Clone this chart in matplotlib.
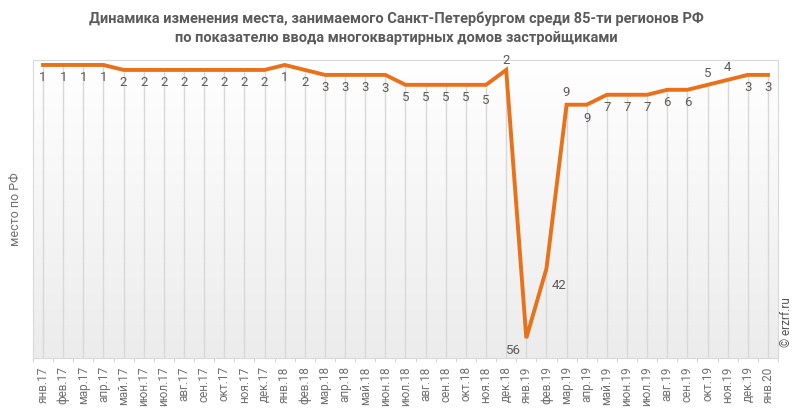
import matplotlib
matplotlib.use("Agg")
import matplotlib.pyplot as plt
import numpy as np

plt.rcParams['font.family'] = ['Roboto', 'DejaVu Sans']

# month labels, Jan 2017 .. Jan 2020
months = ["янв", "фев", "мар", "апр", "май", "июн",
          "июл", "авг", "сен", "окт", "ноя", "дек"]
labels = [f"{m}.{y}" for y in (17, 18, 19) for m in months] + ["янв.20"]

# rank among 85 regions
ranks = [1, 1, 1, 1, 2, 2, 2, 2, 2, 2, 2, 2,
         1, 2, 3, 3, 3, 3, 5, 5, 5, 5, 5, 2,
         56, 42, 9, 9, 7, 7, 7, 6, 6, 5, 4, 3,
         3]

# label placement (offset in points): default below the line
offsets = {23: (0, 7), 24: (-9, -9), 25: (9, -12), 26: (0, 9),
           27: (0, -10), 33: (0, 8), 34: (0, 9), 17: (0, -10), 22: (0, -11)}

title = ("Динамика изменения места, занимаемого Санкт-Петербургом среди 85-ти регионов РФ\n"
         "по показателю ввода многоквартирных домов застройщиками")

fig = plt.figure(figsize=(7.93, 4.15), dpi=100)
ax = fig.add_axes([33 / 793, 1 - 358 / 415, 745 / 793, 298 / 415])

x = np.arange(len(ranks))
ax.set_xlim(-0.5, len(ranks) - 0.5)
ax.set_ylim(60, 0)

# background gradient
grad = np.linspace(0, 1, 100).reshape(-1, 1)
ax.imshow(grad, cmap=matplotlib.colors.LinearSegmentedColormap.from_list("bg", ["#ffffff", "#ececec"]),
          extent=(-0.5, len(ranks) - 0.5, 60, 0), aspect="auto", zorder=0)

# drop lines from each point
ax.vlines(x, ranks, 60, color="#d8d8d8", lw=1, zorder=1)

ax.plot(x, ranks, color="#E8711A", lw=2.8, zorder=3, solid_joinstyle="miter")

for i, r in enumerate(ranks):
    dx, dy = offsets.get(i, (0, -9))
    ax.annotate(str(r), (i, r), xytext=(dx, dy), textcoords="offset points",
                ha="center", va="center", fontsize=9.5, color="#5f5a55", zorder=4)

ax.set_xticks(x)
ax.set_xticklabels(labels, rotation=90, fontsize=8.5, color="#707070")
ax.set_xticks(np.arange(-0.5, len(ranks), 1), minor=True)
ax.tick_params(axis="x", which="major", length=0, pad=6)
ax.tick_params(axis="x", which="minor", length=3, color="#cccccc")
ax.set_yticks([])
ax.set_ylabel("место по РФ", fontsize=9, color="#707070", labelpad=8)

for s in ax.spines.values():
    s.set_color("#d9d9d9")

fig.text(0.5, 1 - 28 / 415, title, ha="center", va="center", fontsize=10.5,
         fontweight="bold", color="#5a5a5a", linespacing=1.5)
fig.text(787 / 793, 1 - 322 / 415, "© erzrf.ru", rotation=90, ha="center", va="center",
         fontsize=8.5, color="#555555")

fig.savefig("out.png", dpi=100)
